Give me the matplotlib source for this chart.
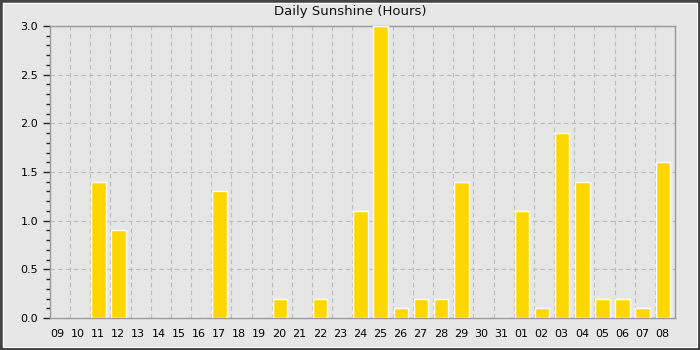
import matplotlib
matplotlib.use("Agg")
import matplotlib.pyplot as plt
from matplotlib.patches import Rectangle
from matplotlib.ticker import MultipleLocator, FixedLocator

days = ["09", "10", "11", "12", "13", "14", "15", "16", "17", "18", "19", "20",
        "21", "22", "23", "24", "25", "26", "27", "28", "29", "30", "31",
        "01", "02", "03", "04", "05", "06", "07", "08"]
sunshine = [0, 0, 1.4, 0.9, 0, 0, 0, 0, 1.3, 0, 0, 0.2,
            0, 0.2, 0, 1.1, 3.0, 0.1, 0.2, 0.2, 1.4, 0, 0,
            1.1, 0.1, 1.9, 1.4, 0.2, 0.2, 0.1, 1.6]

bg = "#e6e6e6"
fig = plt.figure(figsize=(7, 3.5), dpi=100, facecolor=bg)
ax = fig.add_axes([50/700, 1 - 318/350, 625/700, 292/350])
ax.set_facecolor(bg)

x = list(range(len(days)))
ax.bar([i - 0.1 for i in x], sunshine, width=0.72, color="#ffd700", edgecolor="white",
       linewidth=1, zorder=3)

ax.set_xlim(-0.5, len(days) - 0.5)
ax.set_ylim(0, 3.0)
ax.set_xticks([i - 0.47 for i in x])
ax.set_xticklabels(days, fontsize=8, ha="left")
ax.tick_params(axis="x", length=0, pad=8)
ax.xaxis.set_minor_locator(FixedLocator([i + 0.5 for i in range(len(days) - 1)]))
ax.tick_params(axis="x", which="minor", length=0)
ax.set_yticks([0, 0.5, 1.0, 1.5, 2.0, 2.5, 3.0])
ax.set_yticklabels([f"{v:.1f}" for v in [0, 0.5, 1.0, 1.5, 2.0, 2.5, 3.0]], fontsize=8)
ax.yaxis.set_minor_locator(MultipleLocator(0.1))
ax.tick_params(axis="y", which="major", length=5, width=1, color="#222222", direction="out", labelsize=8)
ax.tick_params(axis="y", which="minor", length=3, width=1, color="#222222", direction="out")

ax.grid(axis="y", which="major", linestyle=(0, (4, 3)), color="#bbbbbb", linewidth=0.8, zorder=0)
ax.grid(axis="x", which="minor", linestyle=(0, (4, 3)), color="#bbbbbb", linewidth=0.8, zorder=0)
ax.grid(axis="x", which="major", visible=False)
ax.set_axisbelow(True)
for s in ax.spines.values():
    s.set_color("#999999")
    s.set_linewidth(1)

fig.text(0.5, 1 - 12/350, "Daily Sunshine (Hours)", ha="center", va="center", fontsize=9.5, color="#111111")

# outer border
fig.patches.append(Rectangle((0, 0), 1, 1, transform=fig.transFigure, fill=False,
                             edgecolor="#444444", linewidth=4, zorder=10))
fig.patches.append(Rectangle((3/700, 3/350), 1 - 6/700, 1 - 6/350, transform=fig.transFigure, fill=False,
                             edgecolor="white", linewidth=0.8, zorder=10))

fig.savefig("out.png", dpi=100, facecolor=bg)
